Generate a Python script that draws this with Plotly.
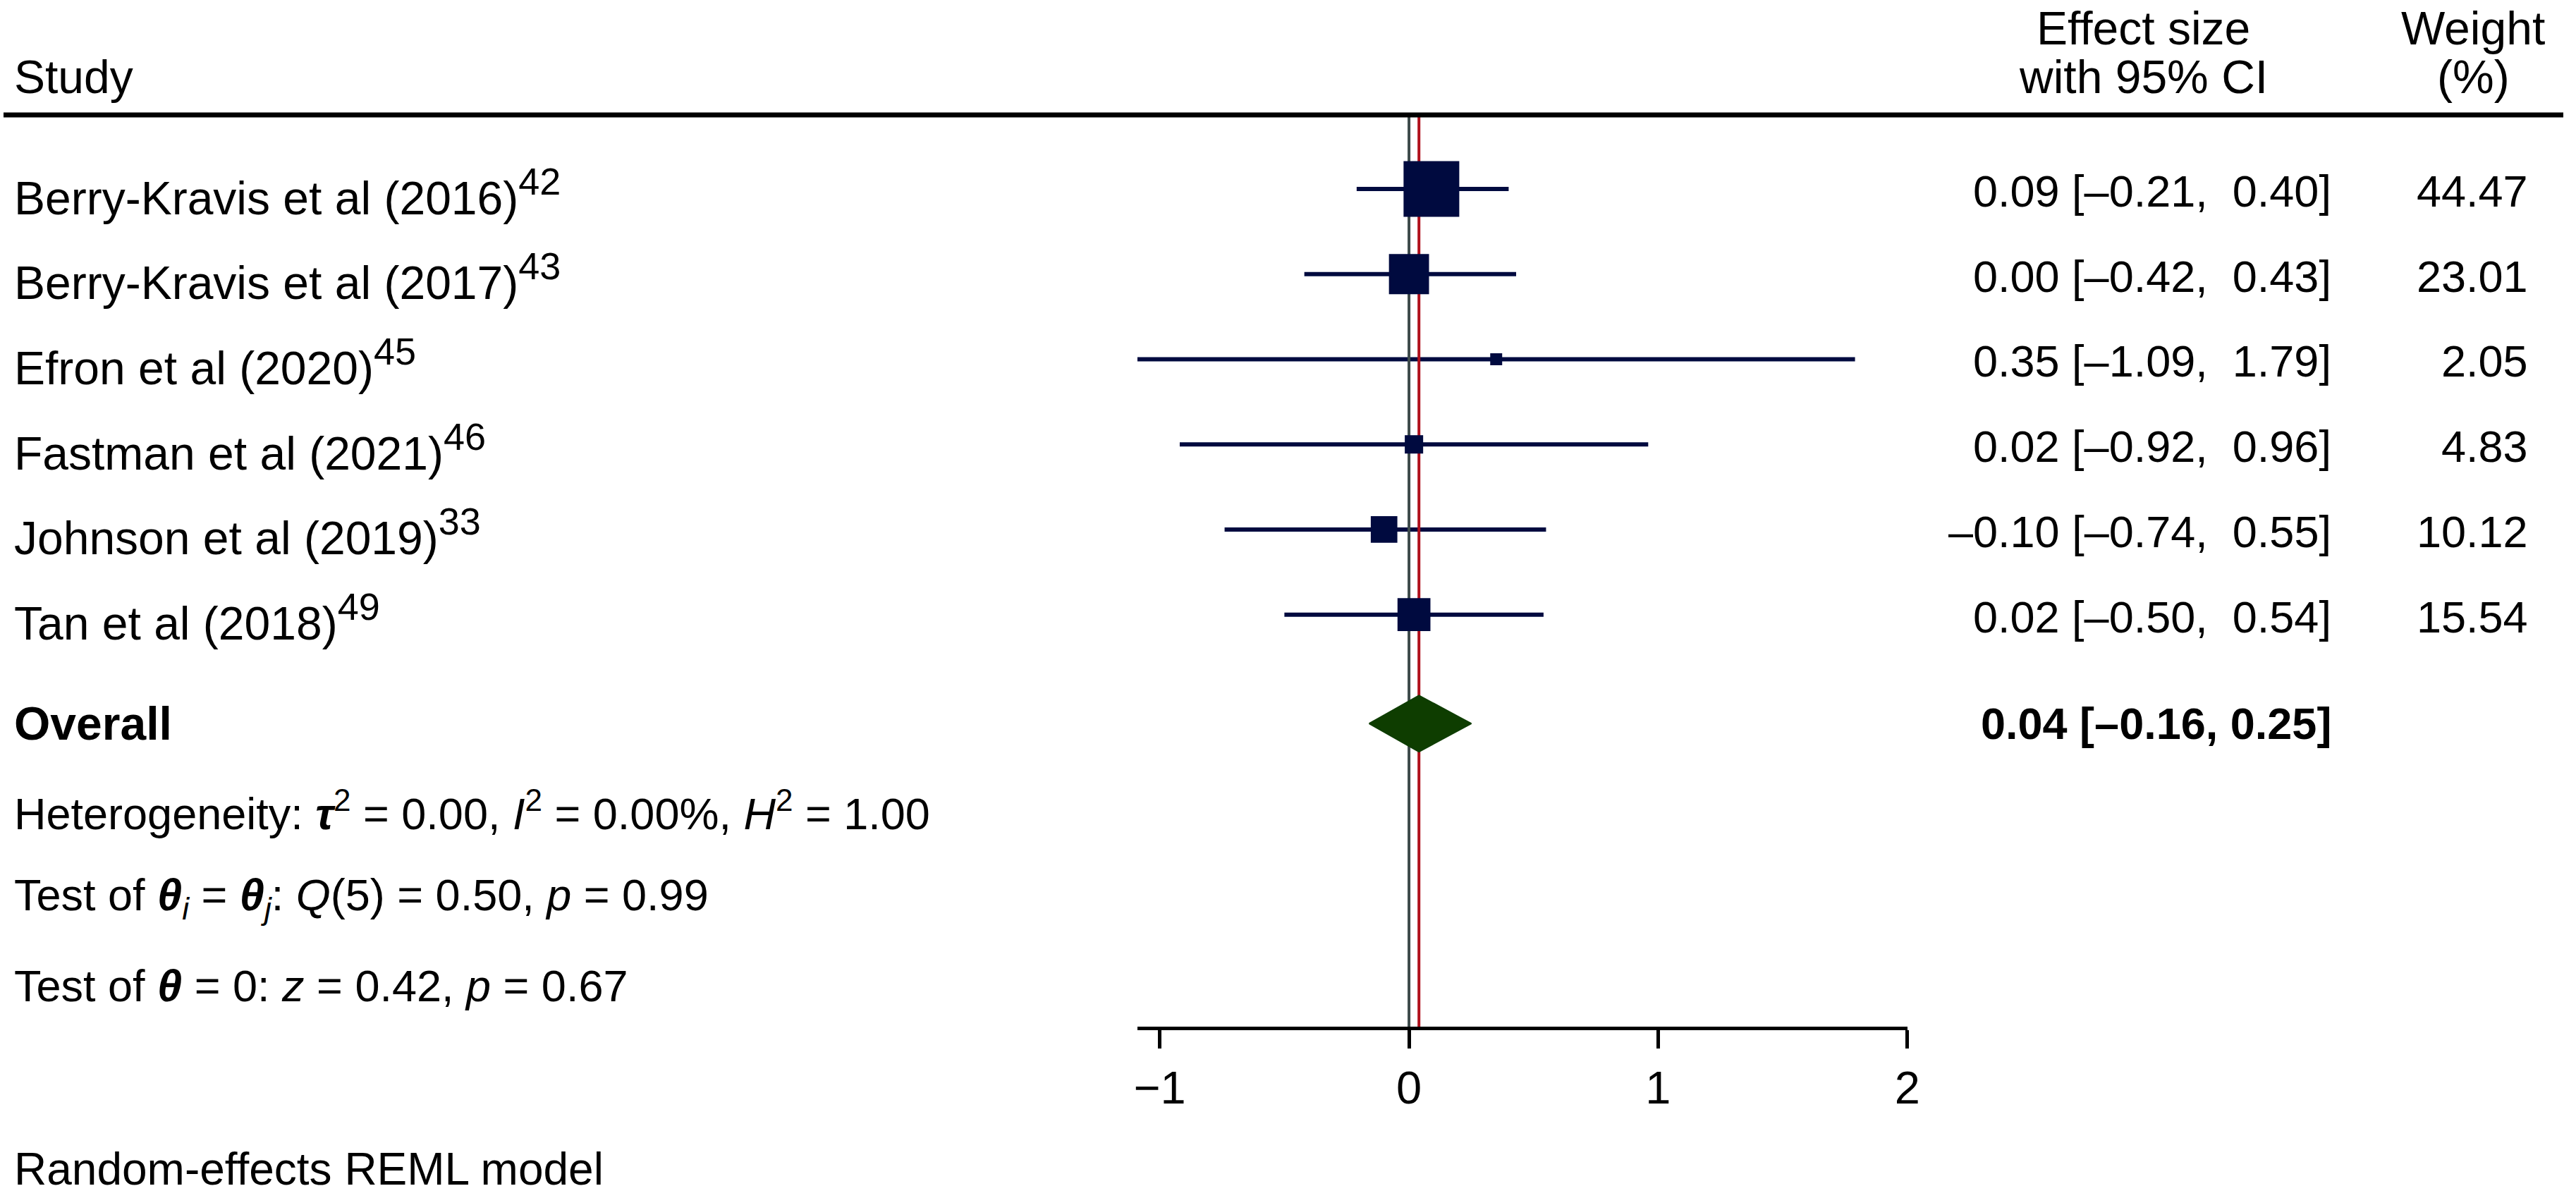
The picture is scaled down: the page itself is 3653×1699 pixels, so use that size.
import plotly.graph_objects as go
import math

# ---- data ----
studies = ["Berry-Kravis et al (2016)", "Berry-Kravis et al (2017)", "Efron et al (2020)",
           "Fastman et al (2021)", "Johnson et al (2019)", "Tan et al (2018)"]
refs = ["42", "43", "45", "46", "33", "49"]
est = [0.09, 0.00, 0.35, 0.02, -0.10, 0.02]
ci_lo = [-0.21, -0.42, -1.09, -0.92, -0.74, -0.50]
ci_hi = [0.40, 0.43, 1.79, 0.96, 0.55, 0.54]
weights = [44.47, 23.01, 2.05, 4.83, 10.12, 15.54]
overall_est = 0.04
overall_lo = -0.16
overall_hi = 0.25
tick_vals = [-1, 0, 1, 2]

# ---- layout constants ----
W, H = 3653, 1699
XS = 3637                  # effective horizontal extent used for placing items
FONT = "Liberation Sans, Arial, sans-serif"
FS = 66      # study labels / headers
FSS = 63     # statistics lines
FSN = 63     # numeric columns
NAVY = "#000a3f"
GREEN = "#0e3d00"
RED = "#b0101c"
GRAY = "#3d4a4a"

rows = [1, 2, 3, 4, 5, 6]
row_overall = 7.28
row_het = 8.30
row_t1 = 9.33
row_t2 = 10.36
y_top, y_bot = 0.13, 10.84

def px_(x):  # pixel from left -> paper fraction
    return x / XS

def py(y):   # pixel from top -> paper fraction
    return 1 - y / H

def fmt(v):
    s = f"{abs(v):.2f}"
    return ("–" + s) if v < 0 else s

def fmt_ci(e, lo, hi, pad=True):
    sep = ",\u00a0 " if pad else ", "
    return f"{fmt(e)} [{fmt(lo)}{sep}{fmt(hi)}]"

fig = go.Figure()

# whiskers
wx, wy = [], []
for r, lo, hi in zip(rows, ci_lo, ci_hi):
    wx += [lo, hi, None]
    wy += [r, r, None]
fig.add_trace(go.Scatter(x=wx, y=wy, mode="lines", line=dict(color=NAVY, width=6),
                         opacity=1, hoverinfo="skip", cliponaxis=False))

# vertical reference lines (no effect, overall)
fig.add_trace(go.Scatter(x=[0, 0], y=[y_top, y_bot], mode="lines",
                         line=dict(color=GRAY, width=4), opacity=1, hoverinfo="skip"))
fig.add_trace(go.Scatter(x=[overall_est, overall_est], y=[y_top, y_bot], mode="lines",
                         line=dict(color=RED, width=4), opacity=1, hoverinfo="skip"))

# boxes (area proportional to weight)
wmax = max(weights)
sizes = [79 * math.sqrt(w / wmax) for w in weights]
fig.add_trace(go.Scatter(x=est, y=rows, mode="markers", opacity=1,
                         marker=dict(symbol="square", size=sizes, color=NAVY, opacity=1,
                                     line=dict(width=0)),
                         cliponaxis=False, hoverinfo="skip"))

# overall diamond
h = 0.33
fig.add_trace(go.Scatter(x=[overall_lo, overall_est, overall_hi, overall_est, overall_lo],
                         y=[row_overall, row_overall - h, row_overall, row_overall + h, row_overall],
                         mode="lines", fill="toself", fillcolor=GREEN, opacity=1,
                         line=dict(color=GREEN, width=2), hoverinfo="skip", cliponaxis=False))

ann = []
def A(text, x, y, xanchor="left", yref="y", size=FS, yshift=0):
    ann.append(dict(text=text, x=px_(x), y=y, xref="paper", yref=yref, xanchor=xanchor,
                    yanchor="middle", showarrow=False, borderpad=0, yshift=yshift,
                    font=dict(family=FONT, size=size, color="black")))

# headers
A("Study", 14, py(109), yref="paper")
A("Effect size", 3040, py(40), xanchor="center", yref="paper")
A("with 95% CI", 3040, py(109), xanchor="center", yref="paper")
A("Weight", 3509, py(40), xanchor="center", yref="paper")
A("(%)", 3509, py(109), xanchor="center", yref="paper")

for r, s, rf, e, lo, hi, w in zip(rows, studies, refs, est, ci_lo, ci_hi, weights):
    A(f"{s}<sup><span style='font-size:54px'>{rf}</span></sup>", 14, r, yshift=-4)
    A(fmt_ci(e, lo, hi), 3308, r, xanchor="right", size=FSN, yshift=-3)
    A(f"{w:.2f}", 3588, r, xanchor="right", size=FSN, yshift=-3)

A("<b>Overall</b>", 14, row_overall)
A("<b>" + fmt_ci(overall_est, overall_lo, overall_hi, pad=False) + "</b>", 3308, row_overall,
  xanchor="right", size=FSN)
A("Heterogeneity: <b><i>τ</i></b><sup>2</sup> = 0.00, <i>I</i><sup>2</sup> = 0.00%, <i>H</i><sup>2</sup> = 1.00",
  14, row_het, size=FSS)
A("Test of <b><i>θ</i></b><sub><i>i</i></sub> = <b><i>θ</i></b><sub><i>j</i></sub>: <i>Q</i>(5) = 0.50, <i>p</i> = 0.99",
  14, row_t1, size=FSS)
A("Test of <b><i>θ</i></b> = 0: <i>z</i> = 0.42, <i>p</i> = 0.67", 14, row_t2, size=FSS)
A("Random-effects REML model", 14, py(1658), yref="paper", size=64)

fig.update_layout(
    width=W, height=H, autosize=False,
    margin=dict(l=0, r=0, t=0, b=0),
    paper_bgcolor="white", plot_bgcolor="white",
    showlegend=False,
    annotations=ann,
    shapes=[dict(type="line", xref="paper", yref="paper", x0=0, x1=1,
                 y0=py(163), y1=py(163), line=dict(color="black", width=7))],
    xaxis=dict(domain=[px_(1611), px_(2705)], range=[-1.09, 2.0],
               tickvals=tick_vals, ticks="outside", ticklen=26, tickwidth=5, tickcolor="black",
               showline=True, linewidth=5, linecolor="black", showgrid=False, zeroline=False,
               tickfont=dict(family=FONT, size=65, color="black"), fixedrange=True),
    yaxis=dict(domain=[py(1456), py(163)], range=[y_bot, y_top],
               visible=False, showgrid=False, zeroline=False, fixedrange=True),
)

fig.write_html("out.html", config={"responsive": False})
